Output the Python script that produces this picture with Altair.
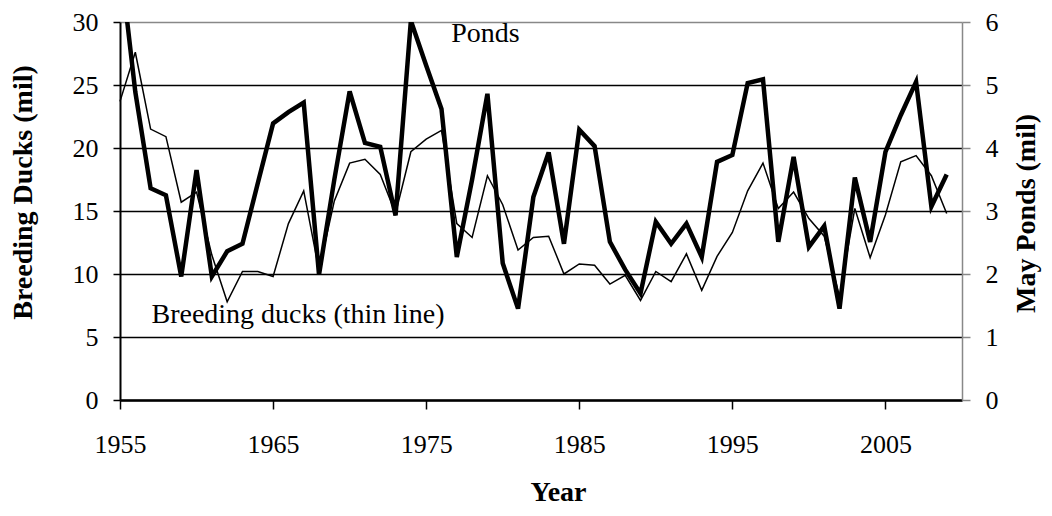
import altair as alt
import pandas as pd

years = list(range(1955, 2010))

ducks = [23.7, 27.6, 21.5, 20.9, 15.7, 16.5, 11.5, 7.8, 10.2, 10.2,
         9.8, 14.0, 16.6, 10.3, 15.8, 18.8, 19.1, 17.9, 14.8, 19.7,
         20.7, 21.4, 14.0, 12.9, 17.8, 15.5, 11.9, 12.9, 13.0, 10.0,
         10.8, 10.7, 9.2, 9.9, 7.9, 10.2, 9.4, 11.6, 8.7, 11.4,
         13.3, 16.6, 18.8, 15.2, 16.5, 14.4, 13.0, 8.2, 15.2, 11.3,
         14.7, 18.9, 19.4, 17.8, 14.8]

ponds = [7.0, 4.89, 3.36, 3.25, 1.96, 3.65, 1.96, 2.36, 2.48, 3.44,
         4.39, 4.57, 4.72, 1.99, 3.5, 4.9, 4.08, 4.02, 2.93, 6.02,
         5.31, 4.62, 2.27, 3.5, 4.86, 2.17, 1.45, 3.22, 3.93, 2.48,
         4.29, 4.03, 2.51, 2.07, 1.69, 2.83, 2.48, 2.80, 2.27, 3.78,
         3.89, 5.03, 5.09, 2.51, 3.86, 2.43, 2.76, 1.45, 3.53, 2.51,
         3.94, 4.52, 5.05, 3.07, 3.58]

x_ticks = [1955, 1965, 1975, 1985, 1995, 2005]
duck_ticks = [0, 5, 10, 15, 20, 25, 30]
pond_ticks = [0, 1, 2, 3, 4, 5, 6]

note_text = ["Ponds", "Breeding ducks (thin line)"]
note_year = [1978.87, 1966.63]
note_value = [28.45, 6.15]

FONT = "Liberation Serif"

df_d = pd.DataFrame({"Year": years, "Ducks": ducks})
df_p = pd.DataFrame({"Year": years, "Ponds": ponds})
df_n = pd.DataFrame({"Year": note_year, "Val": note_value, "Label": note_text})

xscale = alt.Scale(domain=[1955, 2010], nice=False, zero=False)
xaxis = alt.Axis(values=x_ticks, format="d", grid=False, title="Year",
                 domainColor="black", domainWidth=2.5, tickColor="black",
                 tickWidth=1.5, tickSize=9, labelPadding=22, labelFlush=False,
                 labelOverlap=False,
                 labelFont=FONT, labelFontSize=26, labelColor="black",
                 titleFont=FONT, titleFontSize=28, titleFontWeight="bold",
                 titleColor="black", titleX=438, titleY=100,
                 titleBaseline="alphabetic", titleAlign="center")

ducks_line = alt.Chart(df_d).mark_line(color="black", strokeWidth=1.5).encode(
    x=alt.X("Year:Q", scale=xscale, axis=xaxis),
    y=alt.Y("Ducks:Q", scale=alt.Scale(domain=[0, 30], nice=False),
            axis=alt.Axis(values=duck_ticks, title="Breeding Ducks (mil)",
                          grid=True,
                          gridColor={"condition": {"test": "datum.value === 30", "value": "#888888"}, "value": "black"},
                          gridWidth=1.6,
                          domainColor="black", domainWidth=2, tickColor="black",
                          tickWidth=1.5, tickSize=7, labelPadding=15,
                          labelFont=FONT, labelFontSize=26, labelColor="black",
                          titleFont=FONT, titleFontSize=28, titleFontWeight="bold",
                          titleColor="black", titleAngle=270, titleX=-97, titleY=170,
                          titleBaseline="middle", titleAlign="center")),
)

ponds_line = alt.Chart(df_p).mark_line(color="black", strokeWidth=4.5, clip=True).encode(
    x=alt.X("Year:Q", scale=xscale, axis=xaxis),
    y=alt.Y("Ponds:Q", scale=alt.Scale(domain=[0, 6], nice=False),
            axis=alt.Axis(orient="right", values=pond_ticks, title="May Ponds (mil)",
                          grid=False, domainColor="#888888", domainWidth=1.5,
                          tickColor="#888888", tickWidth=1.5, tickSize=8,
                          labelPadding=15, labelFont=FONT, labelFontSize=26,
                          labelColor="black", titleFont=FONT, titleFontSize=28,
                          titleFontWeight="bold", titleColor="black",
                          titleAngle=270, titleX=64, titleY=191,
                          titleBaseline="middle", titleAlign="center")),
)

notes = alt.Chart(df_n).mark_text(font=FONT, fontSize=28, color="black",
                                  align="center", baseline="alphabetic").encode(
    x=alt.X("Year:Q", scale=xscale, axis=xaxis),
    y=alt.Y("Val:Q", scale=alt.Scale(domain=[0, 30], nice=False), axis=None),
    text="Label:N",
)

chart = alt.layer(ponds_line, ducks_line, notes).resolve_scale(
    y="independent"
).properties(
    width=842, height=378,
    autosize=alt.AutoSizeParams(type="none"),
    padding={"left": 112, "top": 14, "right": 82, "bottom": 108},
    background="white",
).configure_view(stroke=None)

chart.save("out.html", embed_options={"renderer": "svg", "actions": False})
